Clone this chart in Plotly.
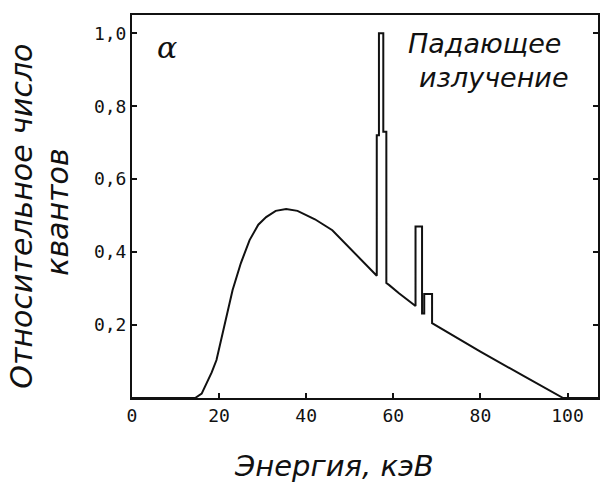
import plotly.graph_objects as go

# Spectrum outline (energy in keV, relative number of quanta)
energy = [0, 14.5, 16, 17.1, 18.3, 19.4, 21, 23.1, 25, 27, 29, 30.8, 33, 35.4, 38, 42, 46, 50, 53, 56.2,
          56.2, 56.7, 56.7, 57.7, 57.7, 58.4, 58.4, 59, 61.3, 65.1,
          65.1, 66.6, 66.6, 67.1, 67.1, 68.9, 68.9, 80, 90, 99, 107]
intensity = [0, 0, 0.012, 0.04, 0.07, 0.104, 0.19, 0.296, 0.37, 0.433, 0.475, 0.496, 0.513, 0.518, 0.513, 0.49, 0.46, 0.41, 0.375, 0.335,
             0.72, 0.72, 1.0, 1.0, 0.73, 0.73, 0.315, 0.31, 0.287, 0.252,
             0.47, 0.47, 0.232, 0.232, 0.285, 0.285, 0.205, 0.127, 0.06, 0.0, 0.0]

x_ticks = [0, 20, 40, 60, 80, 100]
x_tick_labels = ["0", "20", "40", "60", "80", "100"]
y_ticks = [0.2, 0.4, 0.6, 0.8, 1.0]
y_tick_labels = ["0,2", "0,4", "0,6", "0,8", "1,0"]

ink = "#111111"
tick_font = dict(family="DejaVu Sans Mono", size=18, color=ink)
ital = lambda s: dict(family="DejaVu Sans", size=s, color=ink, style="italic")

fig = go.Figure()
fig.add_trace(go.Scatter(x=energy, y=intensity, mode="lines",
                         line=dict(color=ink, width=2), showlegend=False, hoverinfo="skip"))

fig.update_layout(
    width=603, height=486,
    margin=dict(l=132, r=3, t=15, b=88),
    paper_bgcolor="white", plot_bgcolor="white",
    showlegend=False,
    font=dict(family="DejaVu Sans Mono", size=18, color=ink),
)
fig.update_xaxes(range=[0, 107], tickvals=x_ticks, ticktext=x_tick_labels,
                 showgrid=False, zeroline=False, showline=True, linecolor=ink, linewidth=2,
                 mirror=True, ticks="inside", ticklen=5, tickcolor=ink, tickwidth=1.5,
                 tickfont=tick_font)
fig.update_yaxes(range=[0, 1.05], tickvals=y_ticks, ticktext=y_tick_labels,
                 showgrid=False, zeroline=False, showline=True, linecolor=ink, linewidth=2,
                 mirror="ticks", ticks="inside", ticklen=5, tickcolor=ink, tickwidth=1.5,
                 tickfont=tick_font)

# Axis titles
fig.add_annotation(text="Энергия, кэВ", xref="paper", yref="paper", x=0.433, y=-0.178,
                   showarrow=False, xanchor="center", yanchor="middle", font=ital(29))
fig.add_annotation(text="Относительное число", xref="paper", yref="paper", x=-0.237, y=0.475,
                   showarrow=False, textangle=-90, xanchor="center", yanchor="middle",
                   font=ital(30))
fig.add_annotation(text="квантов", xref="paper", yref="paper", x=-0.16, y=0.485,
                   showarrow=False, textangle=-90, xanchor="center", yanchor="middle",
                   font=ital(30))

# Panel label and in-plot text
fig.add_annotation(text="α", xref="paper", yref="paper", x=0.075, y=0.915,
                   showarrow=False, xanchor="center", yanchor="middle",
                   font=dict(family="DejaVu Serif", size=30, color=ink, style="italic"))
fig.add_annotation(text="Падающее", xref="paper", yref="paper", x=0.756, y=0.926,
                   showarrow=False, xanchor="center", yanchor="middle", font=ital(27))
fig.add_annotation(text="излучение", xref="paper", yref="paper", x=0.776, y=0.836,
                   showarrow=False, xanchor="center", yanchor="middle", font=ital(27))

fig.write_html("out.html")
